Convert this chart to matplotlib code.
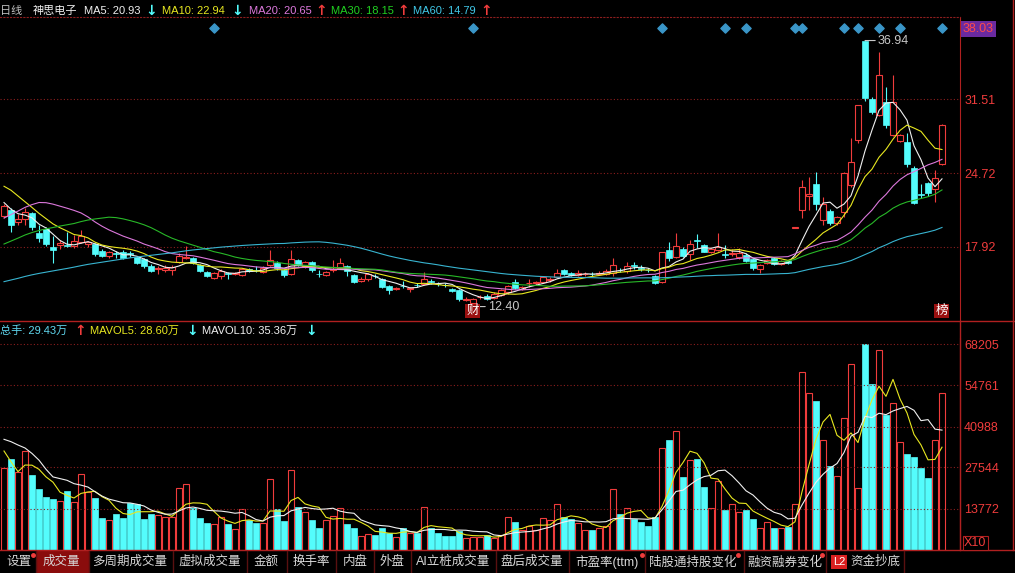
import numpy as np
import pandas as pd
import matplotlib.pyplot as plt
from matplotlib.lines import Line2D
from matplotlib.patches import Rectangle
from matplotlib.transforms import blended_transform_factory

plt.rcParams['font.family'] = ['Liberation Sans', 'Noto Sans CJK SC', 'DejaVu Sans']

# daily candles, oldest first
opens = [20.76, 21.3, 20.2, 20.45, 21.0, 19.2, 19.55, 17.92, 18.1, 18.05,
         17.99, 18.4, 18.2, 18.17, 17.55, 17.05, 17.32, 17.46, 17.3, 16.97,
         16.8, 16.14, 15.88, 15.8, 15.8, 16.5, 16.9, 16.9, 16.2, 15.6,
         15.0, 15.22, 15.5, 15.4, 15.3, 15.85, 15.82, 15.6, 16.2, 16.45,
         15.77, 15.37, 16.7, 16.1, 16.54, 15.45, 15.3, 15.8, 15.98, 16.1,
         15.3, 14.8, 14.9, 15.2, 14.9, 14.3, 14.05, 14.32, 14.05, 14.42,
         14.5, 14.72, 14.52, 14.42, 14.0, 13.9, 13.05, 12.7, 13.25, 13.4,
         13.2, 13.5, 13.7, 14.7, 14.0, 14.55, 14.6, 14.7, 14.88, 15.15,
         15.8, 15.5, 15.3, 15.38, 15.42, 15.45, 15.4, 15.5, 15.82, 15.7,
         16.2, 15.95, 15.82, 15.2, 14.7, 17.6, 16.94, 17.7, 17.25, 18.5,
         18.08, 17.4, 17.6, 17.25, 17.25, 17.0, 17.15, 16.76, 15.9, 16.4,
         16.9, 16.3, 16.6, 19.68, 21.3, 22.6, 23.7, 20.38, 21.24, 20.08,
         21.15, 23.6, 27.76, 36.94, 31.54, 30.07, 31.3, 28.2, 27.7, 27.6,
         25.15, 22.75, 23.77, 23.2, 25.55]
highs = [21.9, 21.5, 20.9, 21.5, 21.1, 19.9, 19.7, 18.9, 18.5, 19.3,
         19.0, 19.46, 18.45, 18.3, 17.7, 17.55, 17.55, 17.6, 17.55, 17.1,
         16.9, 16.3, 16.15, 16.2, 16.2, 17.3, 17.98, 17.0, 16.3, 15.7,
         15.6, 15.85, 15.6, 15.6, 16.0, 16.0, 16.1, 16.1, 17.6, 16.6,
         15.9, 17.6, 16.8, 16.6, 16.6, 15.8, 15.7, 16.7, 16.9, 16.2,
         15.4, 15.1, 15.5, 15.4, 15.0, 14.4, 14.2, 14.75, 14.2, 14.6,
         15.6, 14.9, 14.7, 14.6, 14.1, 14.0, 13.3, 13.2, 13.5, 13.6,
         13.7, 14.0, 14.4, 14.9, 14.3, 14.9, 14.8, 15.2, 15.1, 15.9,
         15.9, 15.6, 15.8, 15.6, 15.6, 15.7, 15.9, 16.9, 16.0, 16.5,
         16.5, 16.2, 16.0, 15.3, 17.45, 18.4, 19.2, 17.9, 18.5, 19.1,
         18.2, 17.8, 19.2, 18.1, 17.7, 17.8, 17.3, 16.9, 16.3, 16.8,
         17.0, 16.7, 16.7, 19.68, 24.07, 24.38, 24.84, 22.5, 21.4, 20.8,
         24.8, 27.92, 31.0, 36.94, 31.7, 35.9, 32.68, 33.76, 28.3, 28.4,
         25.4, 23.7, 23.9, 25.0, 29.2]
lows = [20.6, 19.3, 19.9, 19.9, 19.5, 18.4, 18.0, 16.4, 17.7, 17.9,
        17.8, 18.3, 17.9, 17.1, 16.95, 16.9, 16.9, 16.8, 17.0, 16.3,
        16.0, 15.6, 15.4, 15.6, 15.35, 16.4, 16.8, 16.3, 15.6, 15.1,
        14.9, 14.9, 14.9, 15.3, 15.2, 15.6, 15.6, 15.5, 16.1, 15.8,
        15.1, 15.3, 16.1, 16.0, 15.6, 15.1, 15.2, 15.6, 15.9, 15.2,
        14.6, 14.7, 14.8, 15.0, 14.1, 13.6, 13.9, 14.1, 13.7, 14.2,
        14.4, 14.5, 14.3, 14.2, 13.7, 12.9, 12.95, 12.4, 13.1, 13.0,
        13.1, 13.4, 13.6, 14.0, 13.9, 14.2, 14.4, 14.6, 14.7, 15.0,
        15.3, 15.2, 15.2, 15.2, 15.2, 15.3, 15.3, 15.2, 15.6, 15.5,
        15.9, 15.7, 15.6, 14.5, 14.6, 16.6, 16.85, 17.0, 16.7, 17.8,
        17.4, 17.3, 17.5, 16.9, 17.1, 16.8, 16.5, 15.8, 15.5, 16.3,
        16.2, 16.2, 16.3, 19.68, 20.6, 21.3, 21.3, 19.9, 19.95, 19.9,
        20.7, 23.4, 27.5, 31.4, 30.2, 30.0, 28.9, 28.1, 27.6, 25.3,
        21.9, 22.45, 22.6, 22.07, 25.5]
closes = [21.68, 19.92, 20.45, 21.15, 19.74, 18.75, 18.17, 17.6, 18.25, 18.0,
          18.45, 18.9, 18.35, 17.25, 17.06, 17.4, 17.28, 16.88, 17.25, 16.4,
          16.14, 15.7, 15.92, 16.0, 16.05, 17.06, 17.0, 16.4, 15.7, 15.2,
          15.5, 15.71, 15.4, 15.5, 15.9, 15.7, 15.78, 15.98, 16.7, 15.93,
          15.3, 16.76, 16.2, 16.5, 15.77, 15.4, 15.6, 15.9, 16.4, 15.7,
          14.7, 14.95, 15.4, 15.18, 14.2, 13.9, 14.1, 14.28, 14.15, 14.38,
          14.9, 14.68, 14.48, 14.38, 13.8, 13.07, 13.12, 13.1, 13.3, 13.1,
          13.6, 13.9, 14.3, 14.1, 14.2, 14.6, 14.65, 15.1, 14.92, 15.5,
          15.4, 15.3, 15.5, 15.42, 15.38, 15.5, 15.7, 16.2, 15.78, 16.1,
          16.15, 15.9, 15.78, 14.55, 17.4, 16.85, 18.0, 17.1, 18.17, 18.45,
          17.46, 17.7, 17.9, 17.2, 17.35, 17.3, 16.6, 15.93, 16.2, 16.7,
          16.3, 16.6, 16.4, 19.68, 23.46, 22.8, 21.9, 21.9, 20.08, 20.69,
          24.69, 25.76, 30.99, 31.6, 30.37, 33.76, 29.15, 31.3, 28.2, 25.55,
          21.98, 22.7, 22.85, 24.23, 29.15]
# volume in the axis unit (x10)
volumes = [27120, 30100, 25790, 32860, 24890, 20250, 17590, 16930, 16260, 19580,
           15930, 25220, 19350, 17260, 10720, 9960, 11950, 10720, 15500, 15170,
           10190, 11950, 11620, 11050, 11050, 20480, 21800, 13840, 10720, 9060,
           8630, 10850, 8630, 6970, 13610, 9960, 8860, 8860, 23460, 13510,
           9630, 26550, 14170, 12710, 9960, 7400, 9960, 11280, 13840, 8630,
           7400, 4650, 5310, 4980, 7400, 5540, 4410, 7400, 5740, 5740,
           14170, 7400, 5540, 4650, 4650, 6410, 3880, 4300, 4300, 4980,
           3880, 4980, 10850, 9390, 6640, 7970, 6640, 10520, 9960, 15170,
           10850, 10190, 8860, 6640, 6640, 7200, 7970, 20150, 11950, 13840,
           10190, 9390, 7970, 11050, 33750, 36510, 39500, 24330, 29870, 30200,
           21010, 13840, 22900, 13280, 15170, 12610, 13280, 10290, 7200, 9390,
           7200, 7200, 7740, 15270, 59180, 52000, 49450, 36510, 27880, 24560,
           43710, 61630, 20480, 68205, 55100, 66380, 44800, 48690, 35750, 31760,
           30770, 27320, 24000, 36510, 52000]
# sessions before the visible window, only used to start the averages
pre_closes = [10.9, 11.0, 10.8, 10.7, 10.9, 11.1, 11.0, 11.2, 11.3, 11.1,
              10.9, 11.0, 11.2, 11.4, 11.3, 11.1, 11.0, 11.2, 11.4, 11.5,
              11.3, 11.2, 11.4, 11.6, 11.5, 11.4, 11.6, 11.7, 11.5, 11.6,
              11.8, 12.2, 12.5, 12.9, 13.2, 13.6, 13.9, 14.2, 14.6, 14.8,
              13.6, 14.0, 14.3, 14.6, 14.9, 18.5, 20.3, 22.0, 21.7, 22.5,
              23.6, 25.8, 26.4, 25.0, 24.2, 23.0, 22.5, 21.8, 21.0]
pre_volumes = [37950, 36790, 42800, 43000, 42563, 47850, 42280, 21870, 25130]

event_days = [30, 67, 94, 103, 106, 113, 114, 120, 122, 125, 128, 134]
price_ticks = [31.51, 24.72, 17.92]
vol_ticks = [68205, 54761, 40988, 27544, 13772]
ma_windows = [5, 10, 20, 30, 60]
ma_colors = ['#f0f0f0', '#e8e820', '#dc78dc', '#28b828', '#38b4d0']

RED = '#f03c3c'
CYAN = '#54fcfc'
GRID = '#8c1e1e'

W, H = 1015, 573
fig = plt.figure(figsize=(W / 100, H / 100), dpi=100, facecolor='black')


def fx(px):
    return px / W


def fy(py):
    return 1 - py / H


ax = fig.add_axes([0, fy(321), fx(960), (321 - 17) / H], facecolor='black')
axv = fig.add_axes([0, fy(550), fx(960), (550 - 338) / H], facecolor='black')

n = len(closes)
x = np.arange(n)
o, hi, lo, c = map(np.array, (opens, highs, lows, closes))
up = c >= o

# candles
ax.vlines(x[up], lo[up], hi[up], color=RED, lw=0.8, zorder=2)
ax.vlines(x[~up], lo[~up], hi[~up], color=CYAN, lw=0.8, zorder=2)
body_lo = np.minimum(o, c)
body_h = np.maximum(np.abs(c - o), 0.03)
ax.bar(x[up], body_h[up], bottom=body_lo[up], width=0.74, facecolor='black',
       edgecolor=RED, lw=0.8, zorder=3)
ax.bar(x[~up], body_h[~up], bottom=body_lo[~up], width=0.74, color=CYAN,
       edgecolor=CYAN, lw=0.5, zorder=3)

all_close = pd.Series(pre_closes + closes)
for win, col in zip(ma_windows, ma_colors):
    ma = all_close.rolling(win).mean().iloc[len(pre_closes):].to_numpy()
    ax.plot(x, ma, color=col, lw=0.8, zorder=4)

ax.set_xlim(-4 / 7, 956 / 7)
ax.set_ylim(11.07, 39.11)
ax.set_yticks(price_ticks)
ax.set_xticks([])
ax.yaxis.tick_right()
ax.tick_params(axis='y', colors=RED, labelsize=9, length=0, pad=3)
ax.grid(axis='y', color=GRID, linestyle=(0, (1, 2)), lw=0.8)
for s in ['left', 'bottom']:
    ax.spines[s].set_visible(False)
ax.spines['right'].set_color('#b02020')
ax.spines['top'].set_color(GRID)
ax.spines['top'].set_linestyle((0, (1, 2)))

# event markers along the top
tr = blended_transform_factory(ax.transData, ax.transAxes)
ax.scatter(event_days, [0.964] * len(event_days), marker='D', s=22,
           color='#3a96c8', transform=tr, zorder=5, clip_on=False)

# high / low labels
ih = int(np.argmax(hi))
il = int(np.argmin(lo))
ax.annotate(f'{hi[ih]:.2f}', xy=(ih, hi[ih]), xytext=(13, 0), textcoords='offset pixels',
            color='#c8c8c8', fontsize=9, va='center',
            arrowprops=dict(arrowstyle='-', color='#c8c8c8', lw=0.8, shrinkA=0, shrinkB=0))
ax.annotate(f'{lo[il]:.2f}', xy=(il, lo[il]), xytext=(15, 0), textcoords='offset pixels',
            color='#c8c8c8', fontsize=9, va='center',
            arrowprops=dict(arrowstyle='-', color='#c8c8c8', lw=0.8, shrinkA=0, shrinkB=0))

for day, ch in [(il, '财'), (n - 1, '榜')]:
    ax.text(day, 0.033, ch, transform=tr, color='white', fontsize=9, ha='center', va='center',
            bbox=dict(boxstyle='square,pad=0.1', fc='#9a1010', ec='none'), zorder=6)

# top price box
ax.text(1.003, 38.03, '38.03', transform=blended_transform_factory(ax.transAxes, ax.transData),
        color='#ff4a4a', fontsize=9, va='center', ha='left', clip_on=False,
        bbox=dict(boxstyle='square,pad=0.15', fc='#6a2aa0', ec='none'))

# volume panel
v = np.array(volumes)
axv.bar(x[up], v[up], width=0.72, facecolor='black', edgecolor=RED, lw=0.8)
axv.bar(x[~up], v[~up], width=0.72, color=CYAN, edgecolor=CYAN, lw=0.5)
all_vol = pd.Series(pre_volumes + volumes)
for win, col in [(5, '#e8e820'), (10, '#f0f0f0')]:
    mv = all_vol.rolling(win).mean().iloc[len(pre_volumes):].to_numpy()
    axv.plot(x, mv, color=col, lw=0.8, zorder=4)
axv.set_xlim(-4 / 7, 956 / 7)
axv.set_ylim(0, 70360)
axv.set_yticks(vol_ticks)
axv.set_xticks([])
axv.yaxis.tick_right()
axv.tick_params(axis='y', colors=RED, labelsize=9, length=0, pad=3)
axv.grid(axis='y', color=GRID, linestyle=(0, (1, 2)), lw=0.8)
for s in ['left', 'top', 'bottom']:
    axv.spines[s].set_visible(False)
axv.spines['right'].set_color('#b02020')
fig.text(fx(964), fy(543), 'X10', color=RED, fontsize=9, va='center', ha='left',
         bbox=dict(boxstyle='square,pad=0.1', fc='black', ec='#b02020', lw=0.8))

# frame lines
for yy in [321, 550]:
    fig.add_artist(Line2D([0, 1], [fy(yy), fy(yy)], color='#b02020', lw=1))
fig.add_artist(Line2D([fx(960), fx(960)], [fy(550), fy(321)], color='#b02020', lw=1))
fig.add_artist(Line2D([fx(1013), fx(1013)], [fy(550), fy(0)], color='#b02020', lw=1))

# headers
arrow_kw = dict(fontsize=10, fontweight='bold', family='DejaVu Sans', ha='center')
price_head = [(0, '日线', '#c0c0c0', {}), (33, '神思电子', '#f0f0f0', {}),
              (84, 'MA5: 20.93', ma_colors[0], {}), (151, '↓', CYAN, arrow_kw),
              (162, 'MA10: 22.94', ma_colors[1], {}), (237, '↓', CYAN, arrow_kw),
              (249, 'MA20: 20.65', ma_colors[2], {}), (321, '↑', RED, arrow_kw),
              (331, 'MA30: 18.15', '#20d020', {}), (403, '↑', RED, arrow_kw),
              (413, 'MA60: 14.79', '#40c8e8', {}), (486, '↑', RED, arrow_kw)]
for px, s, col, kw in price_head:
    fig.text(fx(px), fy(11), s, color=col, va='center', **({'fontsize': 8.0, 'ha': 'left'} | kw))
vol_head = [(0, '总手: 29.43万', '#60d8f0', {}), (80, '↑', RED, arrow_kw),
            (90, 'MAVOL5: 28.60万', '#e8e820', {}), (192, '↓', CYAN, arrow_kw),
            (202, 'MAVOL10: 35.36万', '#f0f0f0', {}), (311, '↓', CYAN, arrow_kw)]
for px, s, col, kw in vol_head:
    fig.text(fx(px), fy(331), s, color=col, va='center', **({'fontsize': 8.0, 'ha': 'left'} | kw))

# tab bar
tabs = [(19, '设置'), (61, '成交量'), (130, '多周期成交量'), (210, '虚拟成交量'), (266, '金额'),
        (311, '换手率'), (355, '内盘'), (392, '外盘'), (453, 'AI立桩成交量'), (532, '盘后成交量'),
        (607, '市盈率(ttm)'), (693, '陆股通持股变化'), (785, '融资融券变化'), (875, '资金抄底')]
fig.add_artist(Rectangle((fx(37), 0), fx(88) - fx(37), fy(551), color='#8a0c0c'))
for sx in [36, 89, 173, 247, 287, 336, 374, 411, 496, 569, 645, 744, 826, 904]:
    fig.add_artist(Line2D([fx(sx), fx(sx)], [0, fy(551)], color='#5a1010', lw=1))
for px, s in tabs:
    fig.text(fx(px), fy(562), s, color='#d8d8d8', fontsize=9, va='center', ha='center')
for px in [33, 642, 738, 822]:
    fig.add_artist(Line2D([fx(px)], [fy(555)], marker='o', ms=2.5, color=RED, lw=0))
fig.text(fx(839), fy(562), 'L2', color='white', fontsize=8, va='center', ha='center',
         bbox=dict(boxstyle='square,pad=0.15', fc='#d82020', ec='none'))

fig.savefig('out.png', dpi=100, facecolor='black')
